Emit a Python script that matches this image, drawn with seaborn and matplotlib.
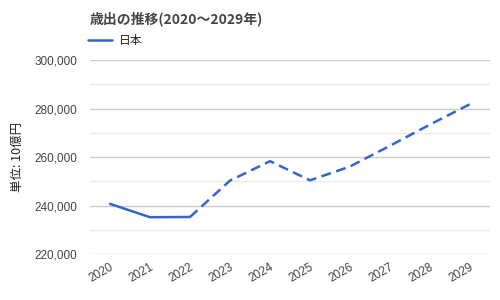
import matplotlib
matplotlib.use("Agg")
import matplotlib.pyplot as plt
import matplotlib.ticker as mticker
import seaborn as sns
import pandas as pd

years = [2020, 2021, 2022, 2023, 2024, 2025, 2026, 2027, 2028, 2029]
values = [240700, 235200, 235300, 250300, 258300, 250400, 256100, 264650, 273400, 281800]
actual_last = 2022
title = "歳出の推移(2020～2029年)"
series_name = "日本"
ylabel = "単位: 10億円"

sns.set_theme(style="white")
plt.rcParams['font.family'] = ['Noto Sans CJK JP', 'DejaVu Sans']

df = pd.DataFrame({"year": years, "value": values})
solid = df[df.year <= actual_last]
dashed = df[df.year >= actual_last]

color = "#3366CC"
fig = plt.figure(figsize=(5, 3), dpi=100)
ax = fig.add_axes([0.18, 0.153, 0.80, 0.647])

sns.lineplot(data=solid, x="year", y="value", ax=ax, color=color, linewidth=1.8, label=series_name)
sns.lineplot(data=dashed, x="year", y="value", ax=ax, color=color, linewidth=1.8,
             linestyle=(0, (4, 2.2)), legend=False)

ax.set_xlim(2019.5, 2029.5)
ax.set_ylim(220000, 300000)
ax.set_xticks(years)
ax.set_xticklabels([str(y) for y in years], rotation=30, ha="right", rotation_mode="anchor")
ax.yaxis.set_major_locator(mticker.MultipleLocator(20000))
ax.yaxis.set_minor_locator(mticker.MultipleLocator(10000))
ax.yaxis.set_major_formatter(mticker.FuncFormatter(lambda v, p: f"{int(v):,}"))
ax.tick_params(axis="both", labelsize=8.5, labelcolor="#444444", length=0,
               labelfontfamily="Liberation Sans")
ax.tick_params(axis="y", pad=9)
ax.tick_params(axis="x", pad=5)
ax.tick_params(axis="y", which="minor", length=0)
ax.grid(True, axis="y", which="major", color="#cccccc", linewidth=1)
ax.grid(True, axis="y", which="minor", color="#ebebeb", linewidth=1)
ax.set_axisbelow(True)
for s in ax.spines.values():
    s.set_visible(False)
ax.set_xlabel("")
ax.set_ylabel(ylabel, fontsize=9, color="#222222", labelpad=8)

fig.text(0.18, 0.937, title, fontsize=10, fontweight="bold", color="#444444", va="center", ha="left")
leg = ax.legend(loc="center left", bbox_to_anchor=(-0.005, 1.10), frameon=False, fontsize=8.5,
                handlelength=2.0, handletextpad=0.6, borderaxespad=0, borderpad=0)
for t in leg.get_texts():
    t.set_color("#222222")

fig.savefig("out.png", dpi=100)
